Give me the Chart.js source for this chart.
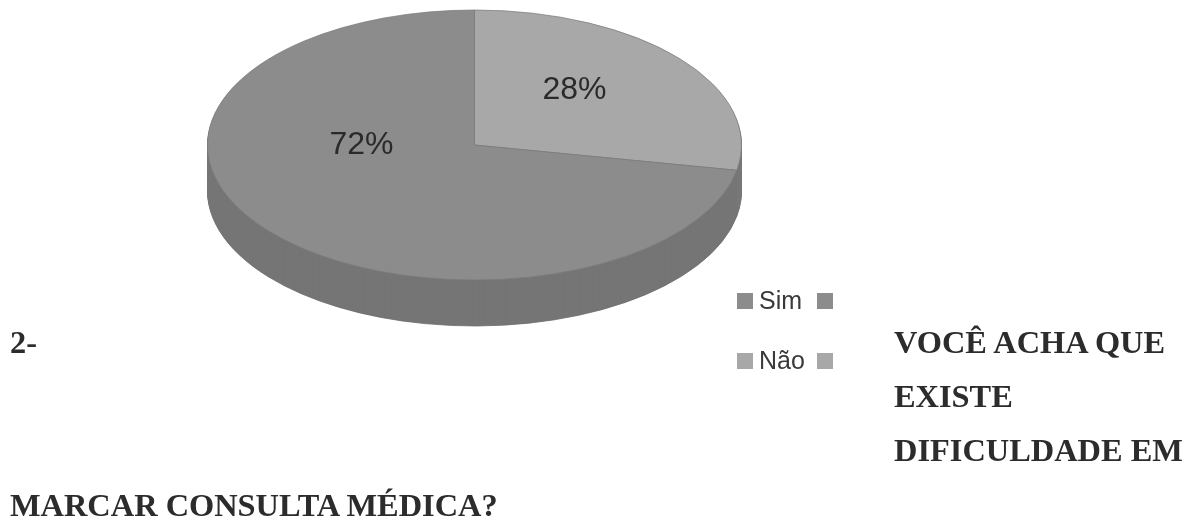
<!DOCTYPE html>
<html><head><meta charset="utf-8">
<script src="https://cdn.jsdelivr.net/npm/chart.js@4"></script>
<style>
html,body{margin:0;padding:0;background:#fff;width:1195px;height:523px;overflow:hidden}
#c{position:absolute;left:0;top:0;width:1195px;height:523px}
.t{position:absolute;font:bold 32.4px "Liberation Serif",serif;color:#2c2c2c;white-space:nowrap;line-height:30px}
.l{position:absolute;font:25px "Liberation Sans",sans-serif;color:#3a3a3a;white-space:nowrap;line-height:26px}
.s{position:absolute;width:16px;height:16px}
</style></head><body>
<canvas id="c" width="1195" height="523"></canvas>
<div class="t" style="left:10px;top:327px">2-</div>
<div class="t" style="left:894px;top:327px">VOCÊ ACHA QUE</div>
<div class="t" style="left:894px;top:381px">EXISTE</div>
<div class="t" style="left:894px;top:435px">DIFICULDADE EM</div>
<div class="t" style="left:10px;top:490px">MARCAR CONSULTA MÉDICA?</div>
<div id="legend"></div>
<script>
const categories = ["Não", "Sim"];
const values = [28, 72];
const percentLabels = ["28%", "72%"];
const faceColors = ["#a8a8a8", "#8c8c8c"];
const sideColors = ["#787878", "#757575"];
const legendTexts = ["Sim", "Não"];
const legendColors = ["#8c8c8c", "#a8a8a8"];

const YSCALE = 135 / 267, DEPTH = 46;

const legend = document.getElementById('legend');
legendTexts.forEach((t, i) => {
  const y = 290 + i * 60;
  legend.insertAdjacentHTML('beforeend',
    `<div class="s" style="left:737px;top:${y + 3}px;background:${legendColors[i]}"></div>` +
    `<div class="l" style="left:759px;top:${y - 3}px">${t}</div>` +
    `<div class="s" style="left:817px;top:${y + 3}px;background:${legendColors[i]}"></div>`);
});

const squash = (ctx, chart) => {
  const a = chart.getDatasetMeta(0).data[0];
  ctx.translate(a.x, a.y);
  ctx.scale(1, YSCALE);
  ctx.translate(-a.x, -a.y);
};

const pie3d = {
  id: 'pie3d',
  beforeDatasetsDraw(chart) {
    const ctx = chart.ctx, arcs = chart.getDatasetMeta(0).data;
    for (let d = DEPTH; d >= 1; d--) {
      arcs.forEach((arc, i) => {
        const orig = arc.options;
        const o = Object.create(orig);
        o.backgroundColor = sideColors[i];
        o.borderColor = d === DEPTH ? '#666666' : sideColors[i];
        o.borderWidth = 1;
        arc.options = o;
        ctx.save();
        ctx.translate(0, d);
        squash(ctx, chart);
        arc.draw(ctx);
        ctx.restore();
        arc.options = orig;
      });
    }
    ctx.save();
    squash(ctx, chart);
  },
  afterDatasetsDraw(chart) {
    const ctx = chart.ctx;
    ctx.restore();
    const arcs = chart.getDatasetMeta(0).data;
    const off = [[100, -55], [-113, 0]];
    ctx.save();
    ctx.font = '32px "Liberation Sans", sans-serif';
    ctx.fillStyle = '#2a2a2a';
    ctx.textAlign = 'center';
    ctx.textBaseline = 'middle';
    arcs.forEach((arc, i) => ctx.fillText(percentLabels[i], arc.x + off[i][0], arc.y + off[i][1]));
    ctx.restore();
  }
};

new Chart(document.getElementById('c'), {
  type: 'pie',
  data: { labels: categories, datasets: [{
    data: values,
    backgroundColor: faceColors,
    borderColor: '#7c7c7c',
    borderWidth: 1,
    radius: 267
  }]},
  options: {
    responsive: false,
    animation: false,
    devicePixelRatio: 1,
    layout: { padding: { left: 0, top: 0, right: 246, bottom: 233 } },
    plugins: { legend: { display: false }, tooltip: { enabled: false } }
  },
  plugins: [pie3d]
});
</script>
</body></html>
